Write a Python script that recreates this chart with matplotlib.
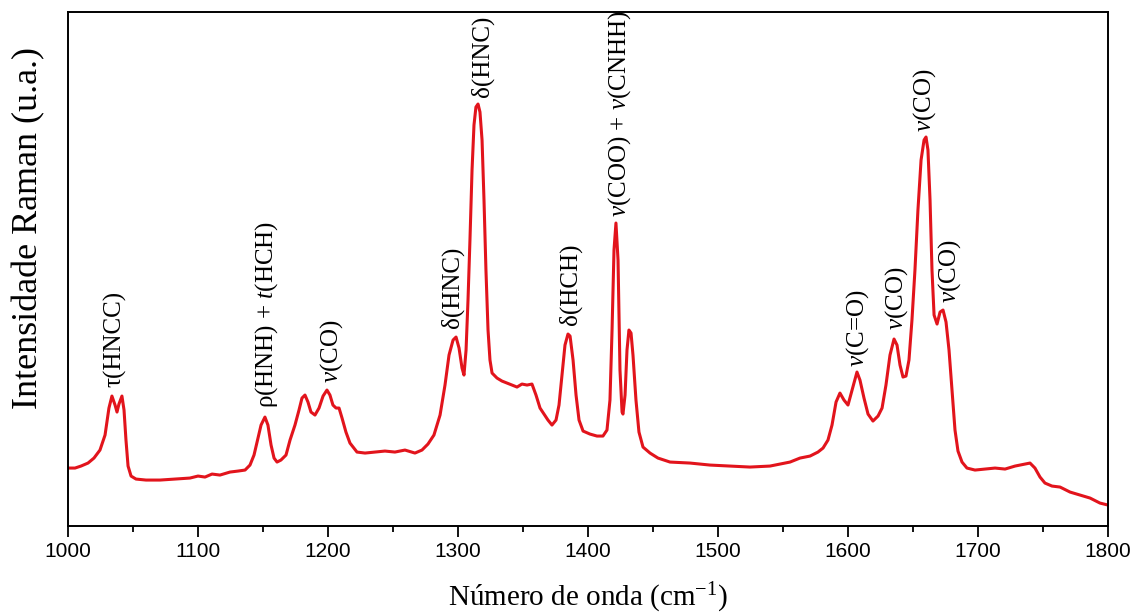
import matplotlib
matplotlib.use("Agg")
import matplotlib.pyplot as plt
from matplotlib.ticker import MultipleLocator

# --- data (wavenumber in cm^-1, intensity in arbitrary units) ---
wavenumber = [
    1000, 1005.4, 1010, 1015.4, 1020, 1024.6, 1028.5, 1031.5, 1033.8, 1036.2,
    1037.7, 1039.2, 1041.5, 1043.1, 1044.6, 1046.2, 1048.5, 1052.3, 1060, 1070.8,
    1082.3, 1093.8, 1100, 1105.4, 1110.8, 1116.9, 1124.6, 1130.8, 1136.2, 1140,
    1143.1, 1146.2, 1148.5, 1151.5, 1153.8, 1156.2, 1158.5, 1160.8, 1163.8, 1167.7,
    1170.8, 1174.6, 1177.7, 1180, 1182.3, 1184.6, 1186.9, 1190, 1193.1, 1196.2,
    1199.2, 1201.5, 1203.8, 1206.2, 1208.5, 1210.8, 1213.8, 1216.9, 1222.3, 1228.5,
    1236.2, 1243.8, 1251.5, 1259.2, 1266.9, 1272.3, 1276.9, 1281.5, 1286.2, 1290,
    1293.1, 1296.2, 1298.5, 1300.8, 1303.1, 1304.6, 1306.2, 1307.7, 1309.2, 1310.8,
    1312.3, 1313.8, 1315.4, 1316.9, 1318.5, 1320, 1321.5, 1323.1, 1324.6, 1326.2,
    1330, 1333.8, 1337.7, 1341.5, 1345.4, 1349.2, 1353.1, 1356.9, 1360, 1363.1,
    1366.2, 1369.2, 1372.3, 1375.4, 1377.7, 1380, 1382.3, 1384.6, 1386.2, 1388.5,
    1390.8, 1393.1, 1396.2, 1401.5, 1406.9, 1411.5, 1414.6, 1416.9, 1418.5, 1420,
    1421.5, 1423.1, 1424.6, 1426.2, 1426.9, 1428.5, 1430, 1431.5, 1433.1, 1434.6,
    1436.9, 1439.2, 1442.3, 1447.7, 1453.8, 1463.1, 1478.5, 1493.8, 1509.2, 1524.6,
    1540, 1555.4, 1563.1, 1570.8, 1576.9, 1580.8, 1584.6, 1587.7, 1590.8, 1593.8,
    1596.9, 1600, 1603.1, 1606.9, 1609.2, 1612.3, 1615.4, 1619.2, 1623.1, 1626.2,
    1629.2, 1632.3, 1635.4, 1637.7, 1640, 1642.3, 1644.6, 1646.9, 1649.2, 1651.5,
    1653.8, 1656.2, 1658.5, 1660, 1661.5, 1663.1, 1664.6, 1666.2, 1668.5, 1670.8,
    1673.1, 1675.4, 1677.7, 1680, 1682.3, 1684.6, 1687.7, 1691.5, 1697.7, 1705.4,
    1713.1, 1720.8, 1728.5, 1736.2, 1740, 1743.8, 1747.7, 1751.5, 1756.9, 1763.1,
    1770.8, 1778.5, 1786.2, 1793.8, 1800,
]
intensity = [
    58, 58, 60, 63, 68, 76, 91, 118, 130, 121,
    114, 122, 130, 116, 86, 60, 50, 47, 46, 46,
    47, 48, 50, 49, 52, 51, 54, 55, 56, 61,
    71, 88, 101, 109, 101, 81, 68, 64, 66, 71,
    86, 101, 116, 128, 131, 124, 114, 111, 118, 130,
    136, 131, 121, 118, 118, 108, 94, 83, 74, 73,
    74, 75, 74, 76, 73, 76, 82, 91, 111, 141,
    171, 186, 189, 178, 158, 151, 176, 226, 286, 356,
    401, 419, 422, 414, 386, 326, 256, 196, 166, 153,
    148, 145, 143, 141, 139, 142, 141, 142, 131, 118,
    112, 106, 101, 106, 121, 151, 181, 192, 190, 166,
    131, 106, 95, 92, 90, 90, 96, 126, 196, 276,
    303, 266, 156, 114, 112, 131, 176, 196, 193, 171,
    126, 94, 79, 73, 68, 64, 63, 61, 60, 59,
    60, 64, 68, 70, 74, 78, 86, 101, 124, 133,
    126, 121, 136, 154, 146, 128, 112, 105, 110, 118,
    141, 171, 187, 181, 161, 149, 150, 166, 206, 256,
    316, 366, 386, 389, 376, 326, 256, 211, 202, 214,
    216, 204, 176, 136, 96, 75, 64, 58, 56, 57,
    58, 57, 60, 62, 63, 58, 49, 43, 40, 39,
    34, 31, 28, 23, 21,
]

# band assignments: (label, wavenumber, intensity at label start)
band_labels = ["τ(HNCC)", "ρ(HNH) + $\\mathit{t}$(HCH)", "$\\mathit{\\nu}$(CO)", "δ(HNC)",
               "δ(HNC)", "δ(HCH)", "$\\mathit{\\nu}$(COO) + $\\mathit{\\nu}$(CNHH)",
               "$\\mathit{\\nu}$(C=O)", "$\\mathit{\\nu}$(CO)", "$\\mathit{\\nu}$(CO)",
               "$\\mathit{\\nu}$(CO)"]
band_x = [1036.2, 1153.1, 1203.1, 1295.4, 1318.5, 1386.2, 1424.6, 1607.7, 1637.7, 1659.2, 1678.5]
band_y = [139, 118, 143, 198, 429, 201, 309, 159, 196, 394, 223]

plt.rcParams['font.family'] = ['Liberation Serif', 'DejaVu Serif']
plt.rcParams['mathtext.fontset'] = 'custom'
plt.rcParams['mathtext.rm'] = 'Liberation Serif'
plt.rcParams['mathtext.it'] = 'Liberation Serif:italic'

fig = plt.figure(figsize=(11.37, 6.16), dpi=100)
ax = fig.add_axes([0.0598, 0.146, 0.9147, 0.8345])

ax.plot(wavenumber, intensity, color='#e2141c', lw=2.2)

for lab, bx, by in zip(band_labels, band_x, band_y):
    ax.text(bx, by, lab, rotation=90, ha='center', va='bottom', fontsize=18)

ax.set_xlim(1000, 1800)
ax.set_ylim(0, 514)
ax.xaxis.set_major_locator(MultipleLocator(100))
ax.xaxis.set_minor_locator(MultipleLocator(50))
ax.set_yticks([])
ax.tick_params(axis='x', which='major', direction='out', length=8, width=1.3)
ax.tick_params(axis='x', which='minor', direction='out', length=4.5, width=1.3)
for lbl in ax.get_xticklabels():
    lbl.set_family('Liberation Sans')
    lbl.set_fontsize(15)
for sp in ax.spines.values():
    sp.set_linewidth(1.4)

ax.set_xlabel('Número de onda (cm$^{-1}$)', fontsize=21, labelpad=14)
ax.set_ylabel('Intensidade Raman (u.a.)', fontsize=26)
ax.yaxis.set_label_coords(-0.022, 0.58)

fig.savefig('out.png', dpi=100)
